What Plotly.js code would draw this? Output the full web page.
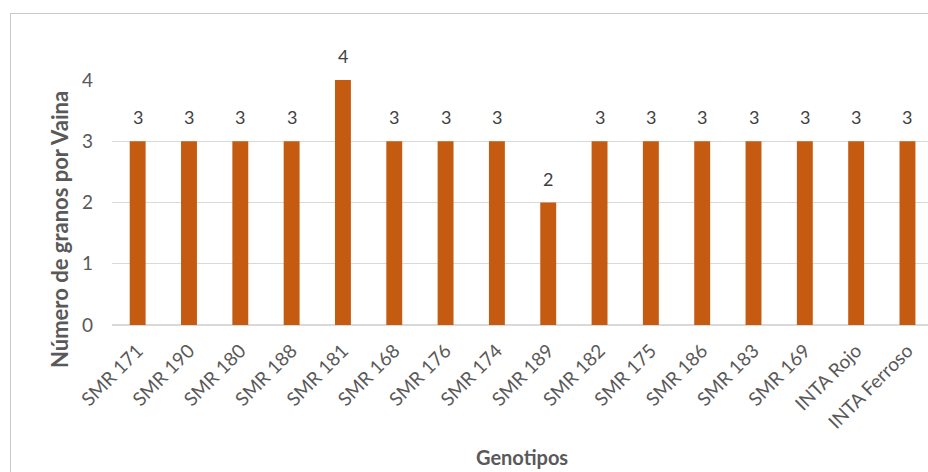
<!DOCTYPE html>
<html>
<head>
<meta charset="utf-8">
<script src="https://cdn.plot.ly/plotly-3.0.1.min.js"></script>
<style>
html,body{margin:0;padding:0;background:#fff;}
#wrap{position:relative;width:928px;height:472px;overflow:hidden;}
#chart{width:928px;height:472px;}
#frame{position:absolute;left:10px;top:13px;width:940px;height:480px;border:1px solid #c9c9c9;pointer-events:none;}
</style>
</head>
<body>
<div id="wrap"><div id="chart"></div><div id="frame"></div></div>
<script>
const categories = ["SMR 171","SMR 190","SMR 180","SMR 188","SMR 181","SMR 168","SMR 176","SMR 174","SMR 189","SMR 182","SMR 175","SMR 186","SMR 183","SMR 169","INTA Rojo","INTA Ferroso"];
const values = [3,3,3,3,4,3,3,3,2,3,3,3,3,3,3,3];
const yTicks = [0,1,2,3,4];
const xTitle = "Genotipos";
const yTitle = "Número de granos por Vaina";

const FONT = "Lato, 'Open Sans', sans-serif";
const barColor = "#C55A11";

const annotations = categories.map((c,i)=>({
  x: c, y: values[i], xref:'x', yref:'y', text: String(values[i]),
  showarrow:false, yanchor:'middle', yshift:24,
  font:{family:FONT, size:18, color:'#404040'}
}));
annotations.push({
  xref:'paper', yref:'paper', x:0.5025, y:-0.537, xanchor:'center', yanchor:'middle',
  text:'<b>'+xTitle+'</b>', showarrow:false,
  font:{family:FONT, size:20, color:'#595959'}
});
annotations.push({
  xref:'paper', yref:'paper', x:-0.0637, y:0.388, xanchor:'center', yanchor:'middle',
  text:'<b>'+yTitle+'</b>', showarrow:false, textangle:-90,
  font:{family:FONT, size:22, color:'#595959'}
});

const trace = {
  type:'bar', x:categories, y:values,
  marker:{color:barColor},
  width:0.31, hoverinfo:'none'
};

const layout = {
  width:928, height:472,
  margin:{l:112, r:0, t:80, b:147},
  paper_bgcolor:'#ffffff', plot_bgcolor:'#ffffff',
  showlegend:false,
  xaxis:{
    type:'category', range:[-0.5,15.4],
    tickangle:-45, tickfont:{family:FONT, size:19, color:'#595959'},
    showgrid:false, zeroline:false, showline:false, ticks:'',
    ticklabelstandoff:10,
    automargin:false
  },
  yaxis:{
    range:[0,4], tickvals:yTicks, ticktext:yTicks.map(String),
    tickfont:{family:FONT, size:19, color:'#595959'},
    showgrid:true, gridcolor:'#d9d9d9', gridwidth:1,
    zeroline:true, zerolinecolor:'#d9d9d9', zerolinewidth:2,
    showline:false, ticks:'', ticklabelstandoff:18,
    automargin:false
  },
  annotations: annotations
};

Plotly.newPlot('chart',[trace],layout,{displayModeBar:false, staticPlot:true});
</script>
</body>
</html>
